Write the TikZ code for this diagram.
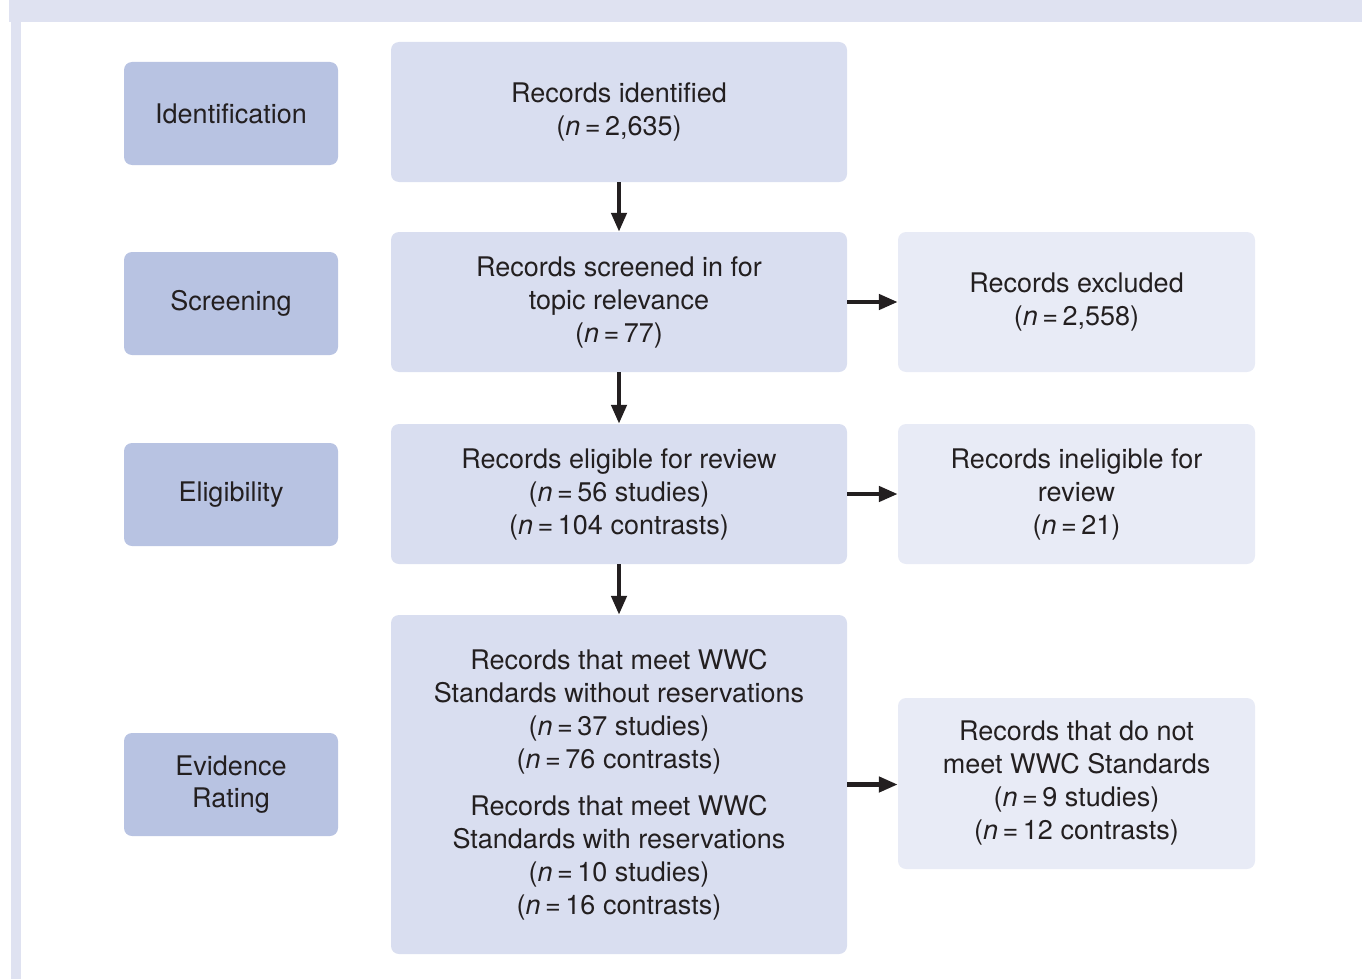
\documentclass[tikz,border=0pt]{standalone}
\usepackage{fontspec}
\setmainfont{TeX Gyre Heros}
\usetikzlibrary{arrows.meta}
\definecolor{bandcol}{HTML}{DFE2F1}
\definecolor{labcol}{HTML}{B8C3E2}
\definecolor{midcol}{HTML}{D9DEF0}
\definecolor{rightcol}{HTML}{E8EBF6}
\definecolor{txtcol}{HTML}{231F20}
\tikzset{
  base/.style={rounded corners=8pt, inner sep=0pt, align=center, text=txtcol,
    font=\fontsize{27}{33}\selectfont},
  labbox/.style={base, fill=labcol, minimum width=214pt, minimum height=103pt},
  midbox/.style={base, fill=midcol, minimum width=456pt, minimum height=140pt},
  rightbox/.style={base, fill=rightcol, minimum width=357pt, minimum height=140pt},
  flow/.style={line width=4.5pt, draw=txtcol, -{Triangle[length=19pt,width=15pt]}}
}
\newcommand{\nn}[1]{(\textit{n}\,=\,#1)}
\begin{document}
\begin{tikzpicture}[x=1pt,y=-1pt]
\useasboundingbox (0,0) rectangle (1362,979);
\fill[bandcol] (9,0) rectangle (1362,22);
\fill[bandcol] (11,22) rectangle (21,979);

\node[labbox] (lid) at (231,113.5) {Identification};
\node[labbox] (lsc) at (231,303.5) {Screening};
\node[labbox] (lel) at (231,494.5) {Eligibility};
\node[labbox, font=\fontsize{27}{32}\selectfont] (lev) at (231,784.5) {Evidence\\Rating};

\node[midbox] (mid) at (619,112) {Records identified\\\nn{2,635}};
\node[midbox] (msc) at (619,302) {Records screened in for\\topic relevance\\\nn{77}};
\node[midbox] (mel) at (619,494) {Records eligible for review\\\nn{56 studies}\\\nn{104 contrasts}};
\node[midbox, minimum height=339pt] (mev) at (619,784.5) {Records that meet WWC\\Standards without reservations\\\nn{37 studies}\\\nn{76 contrasts}\\[14pt]Records that meet WWC\\Standards with reservations\\\nn{10 studies}\\\nn{16 contrasts}};

\node[rightbox] (rex) at (1076.5,302) {Records excluded\\\nn{2,558}};
\node[rightbox] (rin) at (1076.5,494) {Records ineligible for\\review\\\nn{21}};
\node[rightbox, minimum height=171pt] (rno) at (1076.5,783.5) {Records that do not\\meet WWC Standards\\\nn{9 studies}\\\nn{12 contrasts}};

\draw[flow] (mid.south) -- (msc.north);
\draw[flow] (msc.south) -- (mel.north);
\draw[flow] (mel.south) -- (mev.north);
\draw[flow] (msc.east) -- (rex.west);
\draw[flow] (mel.east) -- (rin.west);
\draw[flow] (mev.east) -- (mev.east -| rno.west);
\end{tikzpicture}
\end{document}
